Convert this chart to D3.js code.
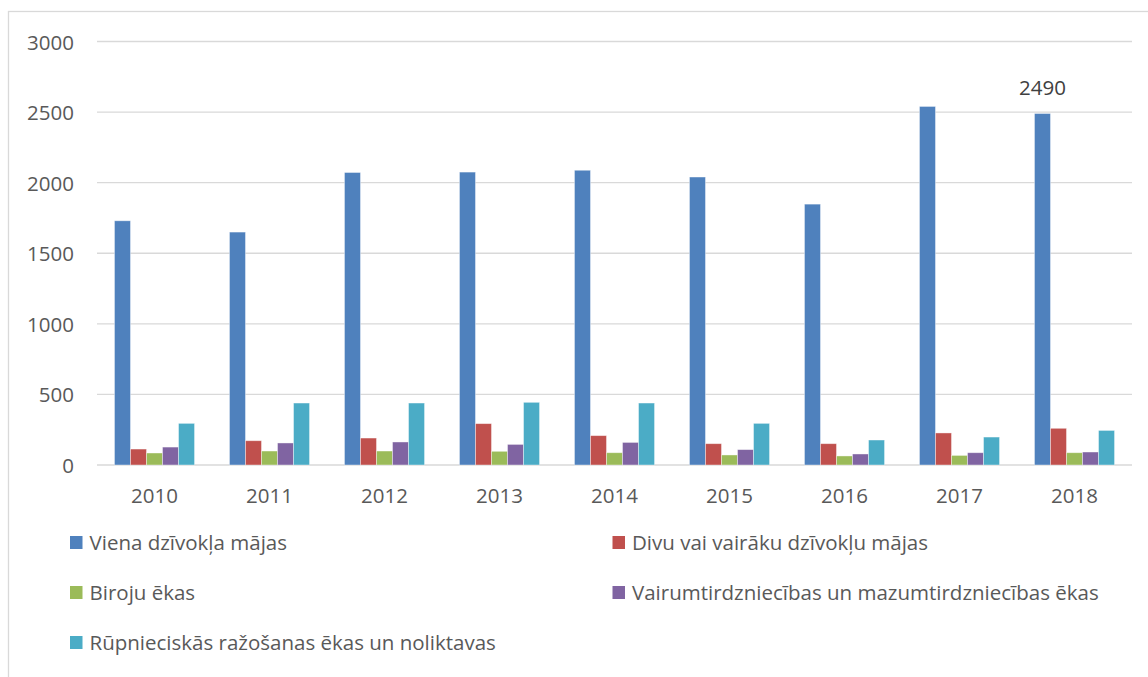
<!DOCTYPE html>
<html>
<head>
<meta charset="utf-8">
<script src="https://cdn.jsdelivr.net/npm/d3@7"></script>
<style>
  body { margin: 0; background: #fff; }
  text { font-family: "Open Sans", sans-serif; }
</style>
</head>
<body>
<script>
const width = 1148;
const height = 677;

const years = ["2010", "2011", "2012", "2013", "2014", "2015", "2016", "2017", "2018"];
const seriesNames = [
  "Viena dzīvokļa mājas",
  "Divu vai vairāku dzīvokļu mājas",
  "Biroju ēkas",
  "Vairumtirdzniecības un mazumtirdzniecības ēkas",
  "Rūpnieciskās ražošanas ēkas un noliktavas"
];
const colors = ["#4F81BD", "#C0504D", "#9BBB59", "#8064A2", "#4BACC6"];

const vienaDz = [1730, 1650, 2072, 2075, 2088, 2040, 1848, 2540, 2490];
const divuDz = [113, 172, 191, 293, 208, 151, 151, 227, 260];
const biroju = [85, 99, 99, 97, 87, 71, 64, 68, 87];
const tirdzn = [127, 156, 163, 146, 160, 109, 78, 87, 92];
const rupn = [295, 439, 439, 444, 439, 295, 177, 198, 245];
const seriesValues = [vienaDz, divuDz, biroju, tirdzn, rupn];

const yTicks = [0, 500, 1000, 1500, 2000, 2500, 3000];

const svg = d3
  .select("body")
  .append("svg")
  .attr("width", width)
  .attr("height", height);

// chart area border
svg
  .append("rect")
  .attr("x", 8.5)
  .attr("y", 11.5)
  .attr("width", width + 10)
  .attr("height", height + 10)
  .attr("fill", "none")
  .attr("stroke", "#d9d9d9")
  .attr("stroke-width", 1.3);

const x0 = d3.scaleBand().domain(years).range([97, 1132]);
const x1 = d3
  .scaleBand()
  .domain(d3.range(seriesNames.length))
  .range([0, x0.bandwidth()])
  .paddingOuter(1.09);
const y = d3.scaleLinear().domain([0, 3000]).range([465, 41.5]);

// gridlines
svg
  .append("g")
  .selectAll("line")
  .data(yTicks)
  .enter()
  .append("line")
  .attr("x1", 97)
  .attr("x2", 1132)
  .attr("y1", (d) => y(d))
  .attr("y2", (d) => y(d))
  .attr("stroke", "#d9d9d9")
  .attr("stroke-width", 1.3);

// y axis labels
const yAxis = d3
  .axisLeft(y)
  .tickValues(yTicks)
  .tickFormat(d3.format("d"))
  .tickSize(0)
  .tickPadding(0);
const gy = svg.append("g").attr("transform", "translate(74,1)").call(yAxis);
gy.select(".domain").remove();
gy.selectAll("text")
  .attr("font-family", "'Open Sans', sans-serif")
  .attr("font-size", 20.5)
  .attr("fill", "#595959");

// bars
const groups = svg
  .append("g")
  .selectAll("g")
  .data(years)
  .enter()
  .append("g")
  .attr("transform", (d) => `translate(${x0(d)},0)`);

groups
  .selectAll("rect")
  .data((d, i) => seriesValues.map((vals, s) => ({ s: s, v: vals[i] })))
  .enter()
  .append("rect")
  .attr("x", (d) => x1(d.s))
  .attr("width", x1.bandwidth())
  .attr("y", (d) => y(d.v))
  .attr("height", (d) => y(0) - y(d.v))
  .attr("fill", (d) => colors[d.s])
  .attr("stroke", "#ffffff")
  .attr("stroke-opacity", 0.5)
  .attr("stroke-width", 0.8);

// x axis labels
const xAxis = d3.axisBottom(x0).tickSize(0).tickPadding(0);
const gx = svg.append("g").attr("transform", "translate(0,496)").call(xAxis);
gx.select(".domain").remove();
gx.selectAll("text")
  .attr("dy", "0.35em")
  .attr("font-family", "'Open Sans', sans-serif")
  .attr("font-size", 20.5)
  .attr("fill", "#595959");

// data label for last bar
svg
  .append("text")
  .attr("x", x0("2018") + x1(0) + x1.bandwidth() / 2)
  .attr("y", y(2490) - 26)
  .attr("dy", "0.35em")
  .attr("text-anchor", "middle")
  .attr("font-size", 20.5)
  .attr("fill", "#404040")
  .text("2490");

// legend
const legendPos = [
  [70, 542.5],
  [612.5, 542.5],
  [70, 592.5],
  [612.5, 592.5],
  [70, 642.5]
];
const legend = svg
  .append("g")
  .selectAll("g")
  .data(seriesNames)
  .enter()
  .append("g")
  .attr("transform", (d, i) => `translate(${legendPos[i][0]},${legendPos[i][1]})`);
legend
  .append("rect")
  .attr("x", 0)
  .attr("y", -6.5)
  .attr("width", 12.5)
  .attr("height", 13)
  .attr("fill", (d, i) => colors[i]);
legend
  .append("text")
  .attr("x", 19.5)
  .attr("dy", "0.35em")
  .attr("font-size", 20.5)
  .attr("fill", "#595959")
  .text((d) => d);
</script>
</body>
</html>
